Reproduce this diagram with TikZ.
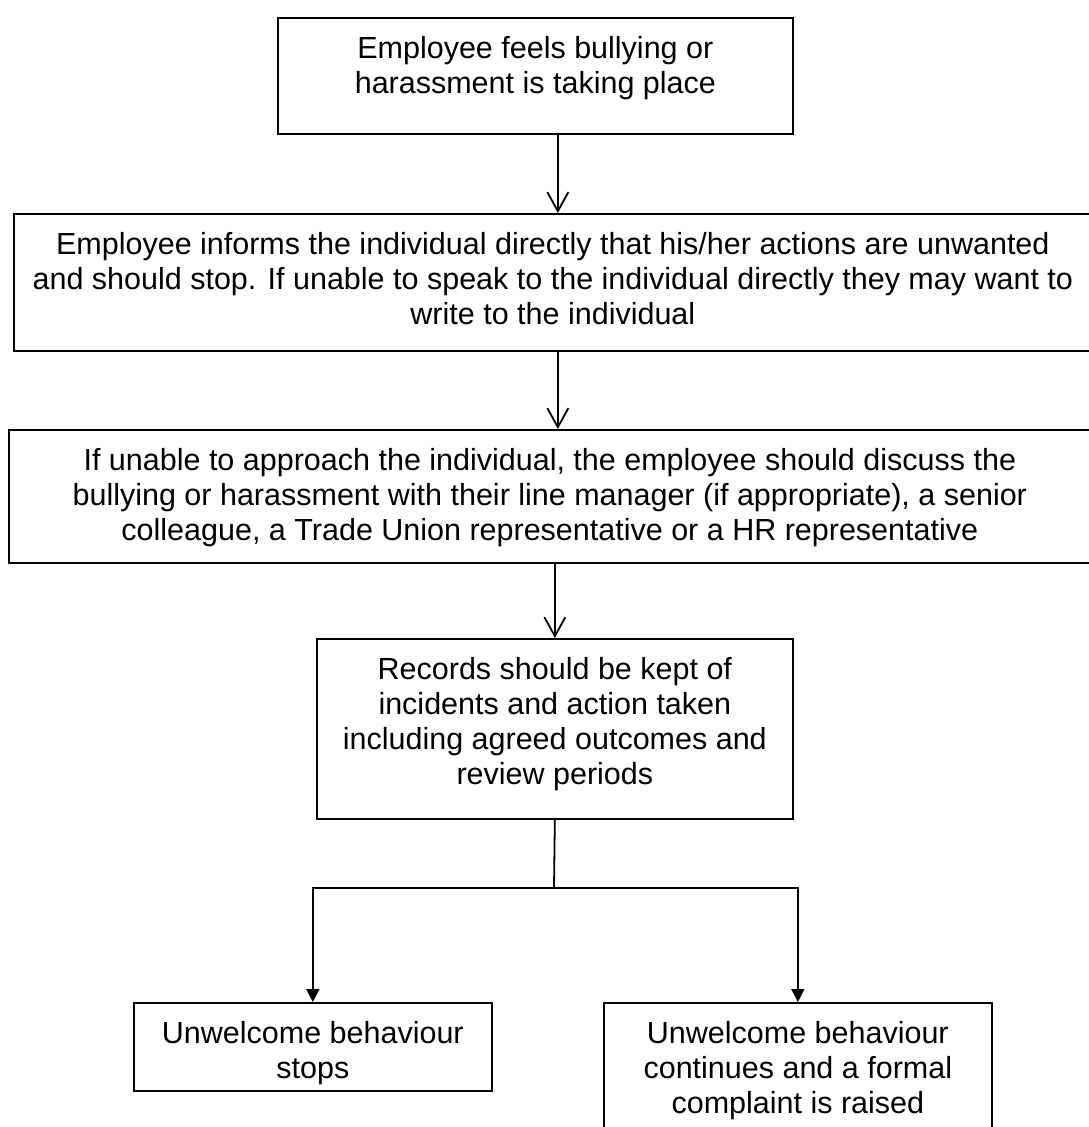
\documentclass[tikz,border=0pt]{standalone}
\usepackage{fontspec}
\setmainfont{Liberation Sans}
\usetikzlibrary{arrows.meta,calc}
\begin{document}
\begin{tikzpicture}[x=1pt,y=-1pt,
  box/.style={draw, line width=1.7pt, inner sep=0pt, anchor=north west},
  txt/.style={align=center, inner sep=0pt, anchor=north, font=\fontsize{30.5}{35}\selectfont},
  openarr/.style={line width=1.8pt, -{Straight Barb[length=19pt,width=21pt,line width=1.8pt]}},
  fillarr/.style={line width=1.8pt, line join=miter, -{Triangle[length=13pt,width=13pt]}},
  conn/.style={line width=1.8pt}]
\useasboundingbox (0,0) rectangle (1088,1127);
% boxes
\node[box, minimum width=515pt, minimum height=116pt] (b1) at (277,17) {};
\node[box, minimum width=1088pt, minimum height=137pt] (b2) at (13,213) {};
\node[box, minimum width=1098pt, minimum height=133pt] (b3) at (8,429) {};
\node[box, minimum width=476pt, minimum height=180pt] (b4) at (316,638) {};
\node[box, minimum width=358pt, minimum height=88pt] (b5) at (133,1002) {};
\node[box, minimum width=388pt, minimum height=150pt] (b6) at (603,1002) {};
% texts
\node[txt] (t1) at ($(b1.north)+(0,19)$) {Employee feels bullying or\\harassment is taking place};
\node[txt] (t2) at ($(b2.north)+(-5,19)$) {Employee informs the individual directly that his/her actions are unwanted\\and should stop. If unable to speak to the individual directly they may want to\\write to the individual};
\node[txt] (t3) at ($(b3.north)+(-8,19)$) {If unable to approach the individual, the employee should discuss the\\bullying or harassment with their line manager (if appropriate), a senior\\colleague, a Trade Union representative or a HR representative};
\node[txt] (t4) at ($(b4.north)+(0,19)$) {Records should be kept of\\incidents and action taken\\including agreed outcomes and\\review periods};
\node[txt] (t5) at ($(b5.north)+(0,19)$) {Unwelcome behaviour\\stops};
\node[txt] (t6) at ($(b6.north)+(0,19)$) {Unwelcome behaviour\\continues and a formal\\complaint is raised};
% connectors
\draw[openarr] (b1.south -| b2.north) -- (b2.north);
\draw[openarr] (b2.south) -- (b3.north);
\draw[openarr] (b3.south -| b4.north) -- (b4.north);
\coordinate (j) at (554,888);
\draw[conn] (b4.south) -- (j);
\draw[fillarr] (j) -| (b5.north);
\draw[fillarr] (j) -| (b6.north);
\end{tikzpicture}
\end{document}
